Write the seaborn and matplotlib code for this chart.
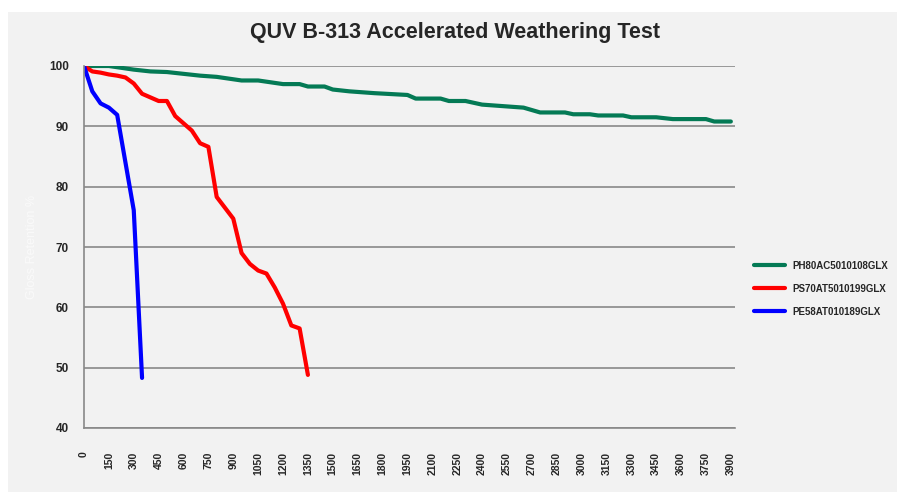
import pandas as pd
import matplotlib.pyplot as plt
import matplotlib.patches as mpatches
import seaborn as sns

# hours of exposure and gloss retention (%)
green_hours = [0, 150, 300, 400, 500, 600, 700, 800, 900, 950, 1050, 1200, 1300, 1350,
               1450, 1500, 1600, 1750, 1950, 2000, 2150, 2200, 2300, 2400, 2550, 2650,
               2750, 2900, 2950, 3050, 3100, 3250, 3300, 3450, 3550, 3750, 3800, 3900]
green_vals = [100, 100, 99.4, 99.1, 99.0, 98.7, 98.4, 98.2, 97.8, 97.6, 97.6, 97.0, 97.0, 96.6,
              96.6, 96.1, 95.8, 95.5, 95.2, 94.6, 94.6, 94.2, 94.2, 93.6, 93.3, 93.1,
              92.3, 92.3, 92.0, 92.0, 91.8, 91.8, 91.5, 91.5, 91.2, 91.2, 90.8, 90.8]

red_hours = [0, 50, 100, 150, 200, 250, 300, 350, 400, 450, 500, 550, 600, 650, 700,
             750, 800, 850, 900, 950, 1000, 1050, 1100, 1150, 1200, 1250, 1300, 1350]
red_vals = [100, 99.1, 98.9, 98.6, 98.4, 98.1, 97.1, 95.4, 94.8, 94.2, 94.2, 91.7, 90.5,
            89.3, 87.2, 86.6, 78.3, 76.5, 74.7, 69.0, 67.2, 66.1, 65.6, 63.3, 60.6, 57.0,
            56.5, 48.8]

blue_hours = [0, 50, 100, 150, 200, 250, 300, 350]
blue_vals = [100, 95.8, 93.8, 93.1, 91.9, 84.0, 76.1, 48.3]

series_names = ["PH80AC5010108GLX", "PS70AT5010199GLX", "PE58AT010189GLX"]
colors = ["#047a55", "#ff0000", "#0000ff"]
x_ticks = list(range(0, 3901, 150))
y_ticks = [40, 50, 60, 70, 80, 90, 100]

rows = []
for name, hrs, vals in zip(series_names,
                           [green_hours, red_hours, blue_hours],
                           [green_vals, red_vals, blue_vals]):
    for h, v in zip(hrs, vals):
        rows.append({"Hours": h, "Gloss": v, "Sample": name})
df = pd.DataFrame(rows)

sns.set_style("white")
plt.rcParams["font.family"] = ["Liberation Sans", "DejaVu Sans"]

fig = plt.figure(figsize=(8.97, 4.92), dpi=100, facecolor="#f2f2f2")
# white strips along the top and left edge, like the original export
fig.patches.append(mpatches.Rectangle((0, 1 - 12 / 492), 1, 12 / 492,
                                      transform=fig.transFigure,
                                      facecolor="white", edgecolor="none"))
fig.patches.append(mpatches.Rectangle((0, 0), 8 / 897, 1,
                                      transform=fig.transFigure,
                                      facecolor="white", edgecolor="none"))
ax = fig.add_axes([84 / 897, 64 / 492, 651 / 897, 362 / 492])
ax.set_facecolor("#f2f2f2")

sns.lineplot(data=df, x="Hours", y="Gloss", hue="Sample", hue_order=series_names,
             palette=colors, linewidth=3, ax=ax, sort=False)

ax.set_xlim(0, 3925)
ax.set_ylim(40, 100)
ax.set_xticks(x_ticks)
ax.set_xticklabels([str(t) for t in x_ticks], rotation=90, fontsize=7.5, fontweight="bold")
ax.set_yticks(y_ticks)
ax.set_yticklabels([str(t) for t in y_ticks], fontsize=8.5, fontweight="bold")
ax.tick_params(axis="x", length=0, pad=17)
ax.tick_params(axis="y", length=5, color="#898989", width=1.2, pad=6)
ax.grid(axis="y", color="#898989", linewidth=1.2)
ax.set_axisbelow(True)
for side in ["top", "right"]:
    ax.spines[side].set_visible(False)
ax.spines["left"].set_color("#898989")
ax.spines["left"].set_linewidth(1.2)
ax.spines["bottom"].set_color("#898989")
ax.spines["bottom"].set_linewidth(1.2)

ax.set_xlabel("")
ax.set_ylabel("Gloss Retention %", color="#fafafa", fontsize=9, labelpad=8)

fig.text(0.507, 0.933, "QUV B-313 Accelerated Weathering Test", ha="center", va="center",
         fontsize=15.5, fontweight="bold")

leg = ax.legend(loc="center left", bbox_to_anchor=(1.015, 0.385), frameon=False,
                prop={"weight": "bold", "size": 7}, handlelength=3.2,
                handletextpad=0.8, labelspacing=1.35)
for line in leg.get_lines():
    line.set_linewidth(3)

fig.savefig("out.png", dpi=100, facecolor=fig.get_facecolor())
